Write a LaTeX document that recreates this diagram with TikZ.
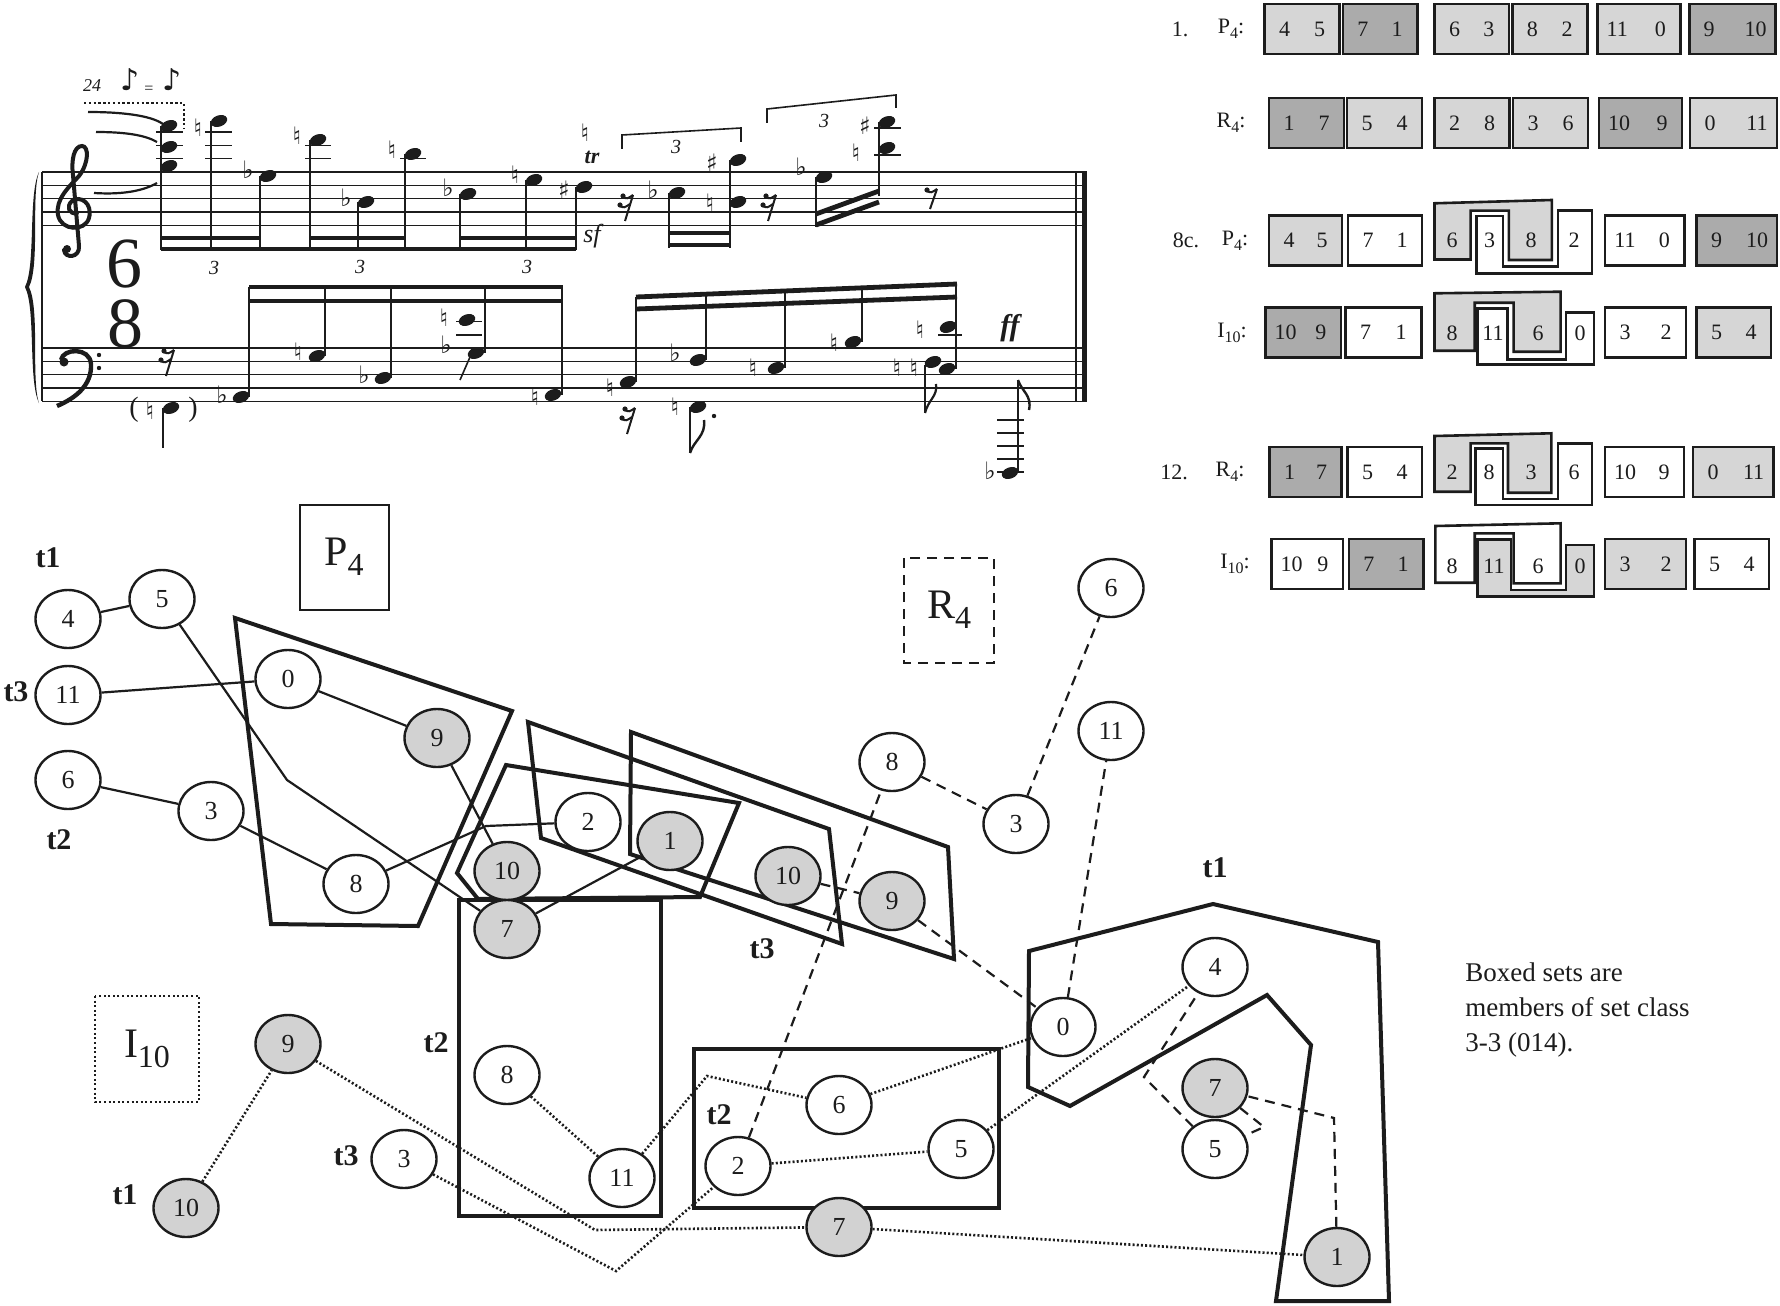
\documentclass[tikz,border=0pt]{standalone}
\usepackage{fontspec}
\setmainfont{Liberation Serif}
\newfontfamily\musfont{DejaVu Sans}
\usetikzlibrary{shapes.geometric}
\definecolor{ink}{HTML}{1C1C1C}
\definecolor{ngray}{HTML}{D2D2D2}
\definecolor{lgray}{HTML}{D6D6D6}
\definecolor{dgray}{HTML}{ABABAB}
\pgfdeclarelayer{bk}
\pgfdeclarelayer{bg}
\pgfsetlayers{bk,bg,main}
\newcommand\fsz[1]{\fontsize{#1}{#1}\selectfont}
\newcommand\tsub[1]{\raisebox{-2.5pt}{\fsz{8}#1}}
\newcommand\bsub[1]{\raisebox{-5pt}{\fsz{16}#1}}
\newcounter{tc}
\newcommand\tcell[6]{\stepcounter{tc}%
 \draw[tblbox,fill=#4] (#1,{#3-25}) rectangle (#2,{#3+25});%
 \node[tbltxt] (tca\thetc) at ({#1+20},#3) {#5};%
 \node[tbltxt] (tcb\thetc) at ({#2-20},#3) {#6};}
\newcounter{mc}
\newcommand\mA[3]{\stepcounter{mc}\node[accs] (acc\themc) at (#1,#2) {#3};}
\newcommand\mH[2]{\fill[ink,rotate around={20:(#1,#2)}] (#1,#2) ellipse [x radius=8.5,y radius=5.6];}
\newcommand\mS[3]{\draw[ink,line width=0.8pt] (#1,#2) -- (#1,#3);}
\newcommand\mL[3]{\draw[ink,line width=0.8pt] (#1,#3) -- (#2,#3);}
\newcommand\mB[4]{\draw[ink,line width=2.4pt] (#1,#2) -- (#3,#4);}
\newcommand\mR[2]{%
 \draw[ink,line width=1pt] ({#1+6},{#2-12}) -- ({#1-2},{#2+14});
 \draw[ink,line width=1pt] ({#1-4},{#2-10}) .. controls ({#1},{#2-8}) .. ({#1+6},{#2-12});
 \fill[ink] ({#1-4},{#2-11}) circle (2.6);
 \draw[ink,line width=1pt] ({#1-7},{#2-1}) .. controls ({#1-3},{#2+1}) .. ({#1+3},{#2-3});
 \fill[ink] ({#1-7},{#2-2}) circle (2.6);}
\newcommand\mE[2]{%
 \draw[ink,line width=1pt] ({#1+6},{#2-8}) -- ({#1-1},{#2+12});
 \draw[ink,line width=1pt] ({#1-4},{#2-6}) .. controls ({#1},{#2-4}) .. ({#1+6},{#2-8});
 \fill[ink] ({#1-4},{#2-7}) circle (2.6);}
\tikzset{
 nd/.style={ellipse,draw=ink,line width=1.2pt,fill=white,minimum width=32.5pt,minimum height=29pt,inner sep=0pt,font=\fsz{13},text=ink},
 gn/.style={nd,fill=ngray},
 poly/.style={draw=ink,line width=2pt,line join=miter},
 sl/.style={draw=ink,line width=1.1pt},
 dl/.style={draw=ink,line width=1.1pt,dash pattern=on 5pt off 3.5pt},
 ol/.style={draw=ink,line width=1.3pt,dash pattern=on 1pt off 1.1pt},
 tlab/.style={font=\bfseries\fsz{15},text=ink,inner sep=0pt},
 tblbox/.style={draw=ink,line width=1.3pt},
 tbltxt/.style={font=\fsz{11},text=ink,inner sep=0pt},
 thinbox/.style={draw=ink,line width=1pt},
 accs/.style={font=\musfont\fsz{12},text=ink,inner sep=0pt},
 mtxt/.style={text=ink,inner sep=0pt}
}
\begin{document}
\begin{tikzpicture}[x=0.5pt,y=-0.5pt]
\useasboundingbox (0,0) rectangle (1780,1305);
\begin{pgfonlayer}{bk}
\fill[white] (0,0) rectangle (1780,1305);
\end{pgfonlayer}

% ================= TABLE =================
\node[tbltxt] (r1a) at (1180,29) {1.};
\node[tbltxt] (r1b) at (1231,29) {P\tsub{4}:};
\tcell{1264.5}{1339.6}{29}{lgray}{4}{5}
\tcell{1342.9}{1417.2}{29}{dgray}{7}{1}
\tcell{1434.5}{1508.8}{29}{lgray}{6}{3}
\tcell{1512.4}{1587.2}{29}{lgray}{8}{2}
\tcell{1597.2}{1680.4}{29}{lgray}{11}{0}
\tcell{1689.2}{1775.6}{29}{dgray}{9}{10}

\node[tbltxt] (r2b) at (1231,123) {R\tsub{4}:};
\tcell{1269}{1344}{123}{dgray}{1}{7}
\tcell{1347}{1422}{123}{lgray}{5}{4}
\tcell{1434.5}{1509.6}{123}{lgray}{2}{8}
\tcell{1513}{1588}{123}{lgray}{3}{6}
\tcell{1599}{1682}{123}{dgray}{10}{9}
\tcell{1690}{1777}{123}{lgray}{0}{11}

\node[tbltxt] (r3a) at (1186,240.5) {8c.};
\node[tbltxt] (r3b) at (1235,240.5) {P\tsub{4}:};
\tcell{1269}{1342}{240.5}{lgray}{4}{5}
\tcell{1348}{1422}{240.5}{white}{7}{1}
\draw[tblbox,fill=lgray] (1434.5,203.3) -- (1551.8,200) -- (1551.8,260) -- (1508.8,260) -- (1508.8,210.7) -- (1470.6,210.7) -- (1470.6,259.5) -- (1434.5,259.5) -- cycle;
\draw[tblbox,fill=white] (1476.3,216) -- (1502.8,216) -- (1502.8,266.7) -- (1557.8,266.7) -- (1557.8,210.7) -- (1592,210.7) -- (1592,273.3) -- (1476.3,273.3) -- cycle;
\node[tbltxt] (x3a) at (1452,240.5) {6};
\node[tbltxt] (x3b) at (1489.5,240.5) {3};
\node[tbltxt] (x3c) at (1531,240.5) {8};
\node[tbltxt] (x3d) at (1574,240.5) {2};
\tcell{1605}{1684.4}{240.5}{white}{11}{0}
\tcell{1696.5}{1777}{240.5}{dgray}{9}{10}

\node[tbltxt] (r4b) at (1232,332.5) {I\tsub{10}:};
\tcell{1265.7}{1340.9}{332.5}{dgray}{10}{9}
\tcell{1345.7}{1421.2}{332.5}{white}{7}{1}
\draw[tblbox,fill=lgray] (1434.5,293.3) -- (1560.6,291.7) -- (1560.6,351.7) -- (1513.6,351.7) -- (1513.6,302.7) -- (1474.7,302.7) -- (1474.7,350.7) -- (1434.5,350.7) -- cycle;
\draw[tblbox,fill=white] (1477.5,308.3) -- (1507.6,308.3) -- (1507.6,359.3) -- (1565.9,359.3) -- (1565.9,312.7) -- (1594,312.7) -- (1594,364.3) -- (1477.5,364.3) -- cycle;
\node[tbltxt] (x4a) at (1452,333) {8};
\node[tbltxt] (x4b) at (1493,333) {11};
\node[tbltxt] (x4c) at (1538,333) {6};
\node[tbltxt] (x4d) at (1580,333) {0};
\tcell{1605}{1686}{332.5}{white}{3}{2}
\tcell{1696.5}{1771}{332.5}{lgray}{5}{4}

\node[tbltxt] (r5a) at (1174,472) {12.};
\node[tbltxt] (r5b) at (1230,472) {R\tsub{4}:};
\tcell{1269.7}{1341.7}{472}{dgray}{1}{7}
\tcell{1347.7}{1422}{472}{white}{5}{4}
\draw[tblbox,fill=lgray] (1434.5,436) -- (1551.4,433.3) -- (1551.4,492.7) -- (1508,492.7) -- (1508,443.3) -- (1470.6,443.3) -- (1470.6,491.7) -- (1434.5,491.7) -- cycle;
\draw[tblbox,fill=white] (1475.7,448.3) -- (1502.8,448.3) -- (1502.8,499) -- (1557.8,499) -- (1557.8,443.3) -- (1592,443.3) -- (1592,505) -- (1475.7,505) -- cycle;
\node[tbltxt] (x5a) at (1452,472.5) {2};
\node[tbltxt] (x5b) at (1489,472.5) {8};
\node[tbltxt] (x5c) at (1531,472.5) {3};
\node[tbltxt] (x5d) at (1574,472.5) {6};
\tcell{1605}{1684}{472}{white}{10}{9}
\tcell{1693}{1773.6}{472}{lgray}{0}{11}

\node[tbltxt] (r6b) at (1235,564) {I\tsub{10}:};
\tcell{1271.7}{1342.9}{564}{white}{10}{9}
\tcell{1348.9}{1423.2}{564}{dgray}{7}{1}
\draw[tblbox,fill=white] (1435.3,526) -- (1560.6,523.3) -- (1560.6,583.3) -- (1513.6,583.3) -- (1513.6,533.3) -- (1474.7,533.3) -- (1474.7,582.7) -- (1435.3,582.7) -- cycle;
\draw[tblbox,fill=lgray] (1477.5,539.3) -- (1510.8,539.3) -- (1510.8,590) -- (1565.9,590) -- (1565.9,545) -- (1594,545) -- (1594,596.7) -- (1477.5,596.7) -- cycle;
\node[tbltxt] (x6a) at (1452,566) {8};
\node[tbltxt] (x6b) at (1494,566) {11};
\node[tbltxt] (x6c) at (1538,566) {6};
\node[tbltxt] (x6d) at (1580,566) {0};
\tcell{1605}{1686}{564}{lgray}{3}{2}
\tcell{1694.6}{1769}{564}{white}{5}{4}

% ================= MUSIC =================
\foreach \yy in {172,185.3,198.6,211.9,225.2,348,361.3,374.6,387.9,401.2}
  \draw[ink,line width=0.7pt] (42,\yy) -- (1087,\yy);
\draw[ink,line width=1pt] (42,172) -- (42,401.2);
\draw[ink,line width=0.8pt] (1076,172) -- (1076,401.2);
\draw[ink,line width=2.2pt] (1084.5,172) -- (1084.5,401.2);
% brace
\fill[ink] (39,172) .. controls (28,195) and (36,265) .. (25,287) .. controls (36,309) and (28,380) .. (39,403) .. controls (31,380) and (40,309) .. (29,287) .. controls (40,265) and (31,195) .. (39,172) -- cycle;
% treble clef
\draw[ink,line width=2pt,line cap=round] (77,213) .. controls (69,215) and (66,206) .. (72,201) .. controls (80,195) and (93,203) .. (89,218) .. controls (85,232) and (61,231) .. (58,215) .. controls (55,199) and (70,186) .. (79,176) .. controls (89,163) and (89,146) .. (82,146) .. controls (74,146) and (71,160) .. (73,175) -- (79,246) .. controls (80,258) and (65,259) .. (64,250);
\fill[ink] (67,249) circle (4);
% bass clef
\fill[ink] (64,362) circle (4.5);
\draw[ink,line width=2.2pt] (61,360) .. controls (63,348) and (90,347) .. (91,364) .. controls (92,385) and (76,398) .. (57,406);
\fill[ink] (99,355) circle (2.2);
\fill[ink] (99,368) circle (2.2);
% time signature
\node[mtxt,font=\fsz{36}] (ts6) at (124,264) {6};
\node[mtxt,font=\fsz{36}] (ts8) at (125,324) {8};
% tempo
\node[mtxt,font=\itshape\fsz{9}] (tm1) at (92,86) {24};
\node[mtxt,font=\musfont\fsz{15}] (tm2) at (130,80) {♪};
\node[mtxt,font=\fsz{8}] (tm3) at (149,90) {=};
\node[mtxt,font=\musfont\fsz{15}] (tm4) at (172,80) {♪};
\draw[ink,line width=1pt,dash pattern=on 1.2pt off 1.2pt] (84,103) -- (184,103) -- (184,128);
\draw[ink,line width=1.1pt] (88,112) .. controls (120,112) and (150,115) .. (163,124);
\draw[ink,line width=1.1pt] (96,132) .. controls (125,132) and (145,135) .. (157,142);
\draw[ink,line width=1.1pt] (94,193) .. controls (125,195) and (145,190) .. (157,183);
% treble group 1
\mL{156}{183}{158.7} \mL{156}{183}{145.4} \mL{156}{183}{132.1}
\mH{169}{126} \mH{169}{147} \mH{169}{166} \mS{161}{126}{250}
\mL{205}{232}{158.7} \mL{205}{232}{145.4} \mL{205}{232}{132.1}
\mH{219}{121} \mS{211}{121}{250} \mA{198}{128}{♮}
\mH{268}{176} \mS{260}{176}{250} \mA{248}{170}{♭}
\mL{305}{331}{158.7} \mL{305}{331}{145.4}
\mH{318}{140} \mS{310}{140}{250} \mA{297}{136}{♮}
\mH{366}{202} \mS{358}{202}{250} \mA{346}{198}{♭}
\mL{400}{426}{158.7}
\mH{413}{154} \mS{405}{154}{250} \mA{392}{150}{♮}
\mH{468}{194} \mS{460}{194}{250} \mA{448}{188}{♭}
\mH{534}{180} \mS{526}{180}{250} \mA{515}{175}{♮}
\mH{584}{187} \mS{576}{187}{250} \mA{564}{190}{♯}
\mB{161}{238}{260}{238} \mB{310}{238}{405}{238} \mB{460}{238}{576}{238} \mB{161}{249}{576}{249}
\node[mtxt,font=\itshape\fsz{10}] (tp1) at (214,268) {3};
\node[mtxt,font=\itshape\fsz{10}] (tp2) at (360,267) {3};
\node[mtxt,font=\itshape\fsz{10}] (tp3) at (527,267) {3};
\mA{585}{133}{♮}
\node[mtxt,font=\bfseries\itshape\fsz{11}] (tr1) at (592,157) {tr};
\node[mtxt,font=\itshape\fsz{13}] (sf1) at (592,236) {sf};
% treble group 2
\mR{627}{207}
\draw[ink,line width=0.8pt] (622,149) -- (622,135) -- (741,128) -- (741,142);
\node[mtxt,font=\itshape\fsz{10}] (tp4) at (676,147) {3};
\mH{677}{193} \mS{669}{193}{248} \mA{653}{190}{♭}
\mH{738}{160} \mH{738}{202} \mS{730}{160}{248} \mA{712}{163}{♯} \mA{710}{203}{♮}
\mB{669}{233}{730}{233} \mB{669}{245}{730}{245}
\mR{770}{207}
\draw[ink,line width=0.8pt] (767,123) -- (767,109) -- (896,95) -- (896,108);
\node[mtxt,font=\itshape\fsz{10}] (tp5) at (824,121) {3};
\mH{824}{177} \mS{816}{177}{227} \mA{801}{167}{♭}
\mL{874}{901}{155} \mL{874}{901}{128}
\mH{887}{148} \mH{887}{122} \mS{879}{122}{196} \mA{856}{153}{♮} \mA{865}{126}{♯}
\mB{816}{214}{879}{191} \mB{816}{225}{879}{202}
\mE{931}{197}
% bass group 1
\mR{168}{362}
\node[mtxt,font=\fsz{14}] (par1) at (134,410) {(};
\node[mtxt,font=\fsz{14}] (par2) at (193,410) {)};
\mH{171}{408} \mS{163}{408}{448} \mA{150}{411}{♮}
\mH{241}{397} \mS{249}{287}{397} \mA{222}{395}{♭}
\mH{317}{356} \mS{325}{287}{356} \mA{298}{352}{♮}
\mH{383}{378} \mS{391}{287}{378} \mA{364}{375}{♭}
\mL{456}{482}{334.7} \mL{456}{482}{321.4}
\mH{467}{320} \mH{476}{353} \mS{485}{287}{353} \mA{444}{318}{♮} \mA{446}{345}{♭}
\draw[ink,line width=0.8pt] (470,357) -- (460,380);
\mH{553}{395} \mS{562}{287}{395} \mA{535}{397}{♮}
\mB{249}{287}{563}{287} \mB{249}{301}{563}{301}
% bass group 2
\mB{636}{297}{957}{284} \mB{636}{309}{957}{297}
\mH{628}{382} \mS{636}{297}{382} \mA{610}{388}{♮}
\mR{629}{420}
\mH{698}{360} \mS{706}{294}{360} \mA{675}{353}{♭}
\mH{698}{407} \mS{690}{407}{453} \mA{675}{407}{♮}
\draw[ink,line width=1.2pt] (690,453) .. controls (694,440) and (706,436) .. (704,420);
\fill[ink] (714,416) circle (2.2);
\mH{776}{368} \mS{785}{291}{368} \mA{753}{368}{♮}
\mH{853}{342} \mS{862}{288}{342} \mA{834}{343}{♮}
\mL{938}{962}{334.7}
\mH{948}{327} \mH{933}{362} \mH{947}{369} \mS{956}{284}{369}
\mA{897}{368}{♮} \mA{914}{368}{♮} \mA{920}{330}{♮}
\mS{925}{365}{413}
\draw[ink,line width=1.1pt] (925,413) .. controls (928,400) and (938,396) .. (936,384);
\node[mtxt,font=\bfseries\itshape\fsz{15}] (ff1) at (1010,328) {ff};
\foreach \yy in {420,433,446,459,472} \draw[ink,line width=0.8pt] (997,\yy) -- (1024,\yy);
\mH{1010}{473} \mS{1018}{380}{473} \mA{990}{471}{♭}
\draw[ink,line width=1.2pt] (1018,380) .. controls (1022,392) and (1032,395) .. (1029,410);

% ================= GRAPH NODES =================
\node[nd] (a4) at (68,619) {4};
\node[nd] (a5) at (162,599) {5};
\node[nd] (a11) at (68,695) {11};
\node[nd] (a0) at (288,679) {0};
\node[gn] (a9) at (437,738) {9};
\node[nd] (a6) at (68,780) {6};
\node[nd] (a3) at (211,811) {3};
\node[nd] (a8) at (356,884) {8};
\node[gn] (a10) at (507,871) {10};
\node[gn] (a7) at (507,929) {7};
\node[nd] (a2) at (588,822) {2};
\node[gn] (a1) at (670,841) {1};
\node[gn] (b10) at (788,876) {10};
\node[gn] (b9) at (892,901) {9};
\node[nd] (b6) at (1111,588) {6};
\node[nd] (b11) at (1111,731) {11};
\node[nd] (b8) at (892,762) {8};
\node[nd] (b3) at (1016,824) {3};
\node[nd] (b0) at (1063,1027) {0};
\node[nd] (b4) at (1215,967) {4};
\node[gn] (b7) at (1215,1088) {7};
\node[nd] (b5) at (1215,1149) {5};
\node[gn] (b1) at (1337,1257) {1};
\node[gn] (c9) at (288,1044) {9};
\node[gn] (c10) at (186,1208) {10};
\node[nd] (c8) at (507,1075) {8};
\node[nd] (c11) at (622,1178) {11};
\node[nd] (c3) at (404,1159) {3};
\node[nd] (c6) at (839,1105) {6};
\node[nd] (c5) at (961,1149) {5};
\node[nd] (c2) at (738,1166) {2};
\node[gn] (c7) at (839,1227) {7};

\node[tlab] (L1) at (48,558) {t1};
\node[tlab] (L2) at (16,692) {t3};
\node[tlab] (L3) at (59,840) {t2};
\node[tlab] (L4) at (762,949) {t3};
\node[tlab] (L5) at (1215,868) {t1};
\node[tlab] (L6) at (436,1043) {t2};
\node[tlab] (L7) at (346,1156) {t3};
\node[tlab] (L8) at (125,1195) {t1};
\node[tlab] (L9) at (719,1115) {t2};

\node[mtxt,font=\fsz{21}] (bigP) at (344,557) {P\bsub{4}};
\node[mtxt,font=\fsz{21}] (bigR) at (949,610) {R\bsub{4}};
\node[mtxt,font=\fsz{21}] (bigI) at (147,1049) {I\bsub{10}};

\node[mtxt,anchor=north west,align=left,font=\fontsize{13.5}{17.5}\selectfont] (note) at (1465,962) {Boxed sets are\\members of set class\\3-3 (014).};

\begin{pgfonlayer}{bg}
% boxes
\draw[thinbox] (300,505) rectangle (389,610);
\draw[thinbox,dash pattern=on 5pt off 3.5pt] (904,558) rectangle (994,663);
\draw[thinbox,dash pattern=on 1pt off 1.3pt,line width=1.2pt] (95,996) rectangle (199,1102);
% polygons
\draw[poly] (235,618) -- (512,711) -- (418,926) -- (271,924) -- cycle;
\draw[poly] (528,722) -- (829,829) -- (842,944) -- (541,838) -- cycle;
\draw[poly] (631,732) -- (948,847) -- (954,959) -- (630,854) -- cycle;
\draw[poly] (506,765) -- (739,803) -- (700,897) -- (478,899) -- (457,873) -- cycle;
\draw[poly] (459,900) rectangle (661,1216);
\draw[poly] (694,1049) rectangle (999,1208);
\draw[poly] (1029,951) -- (1213,904) -- (1378,942) -- (1389,1301) -- (1276,1301) -- (1311,1045) -- (1267,995) -- (1070,1106) -- (1028,1087) -- cycle;
% solid connectors (P4)
\draw[sl] (a4) -- (a5);
\draw[sl] (a5) -- (287,780) -- (a7);
\draw[sl] (a7) -- (a1);
\draw[sl] (a6) -- (a3);
\draw[sl] (a3) -- (a8);
\draw[sl] (a8) -- (486,826) -- (a2);
\draw[sl] (a11) -- (a0);
\draw[sl] (a0) -- (a9);
\draw[sl] (a9) -- (a10);
% dashed connectors (R4)
\draw[dl] (b10) -- (b9);
\draw[dl] (b9) -- (b0);
\draw[dl] (b0) -- (b11);
\draw[dl] (c2) -- (b8);
\draw[dl] (b8) -- (b3);
\draw[dl] (b3) -- (b6);
\draw[dl] (b1) -- (1334,1118) -- (b7);
\draw[dl] (b7) -- (1264,1127) -- (b5);
\draw[dl] (b5) -- (1144,1077) -- (b4);
% dotted connectors (I10)
\draw[ol] (c10) -- (c9);
\draw[ol] (c9) -- (595,1230) -- (c7);
\draw[ol] (c7) -- (b1);
\draw[ol] (c8) -- (c11);
\draw[ol] (c11) -- (707,1076) -- (c6);
\draw[ol] (c6) -- (b0);
\draw[ol] (c3) -- (616,1271) -- (c2);
\draw[ol] (c2) -- (c5);
\draw[ol] (c5) -- (b4);
\end{pgfonlayer}
\end{tikzpicture}
\end{document}
